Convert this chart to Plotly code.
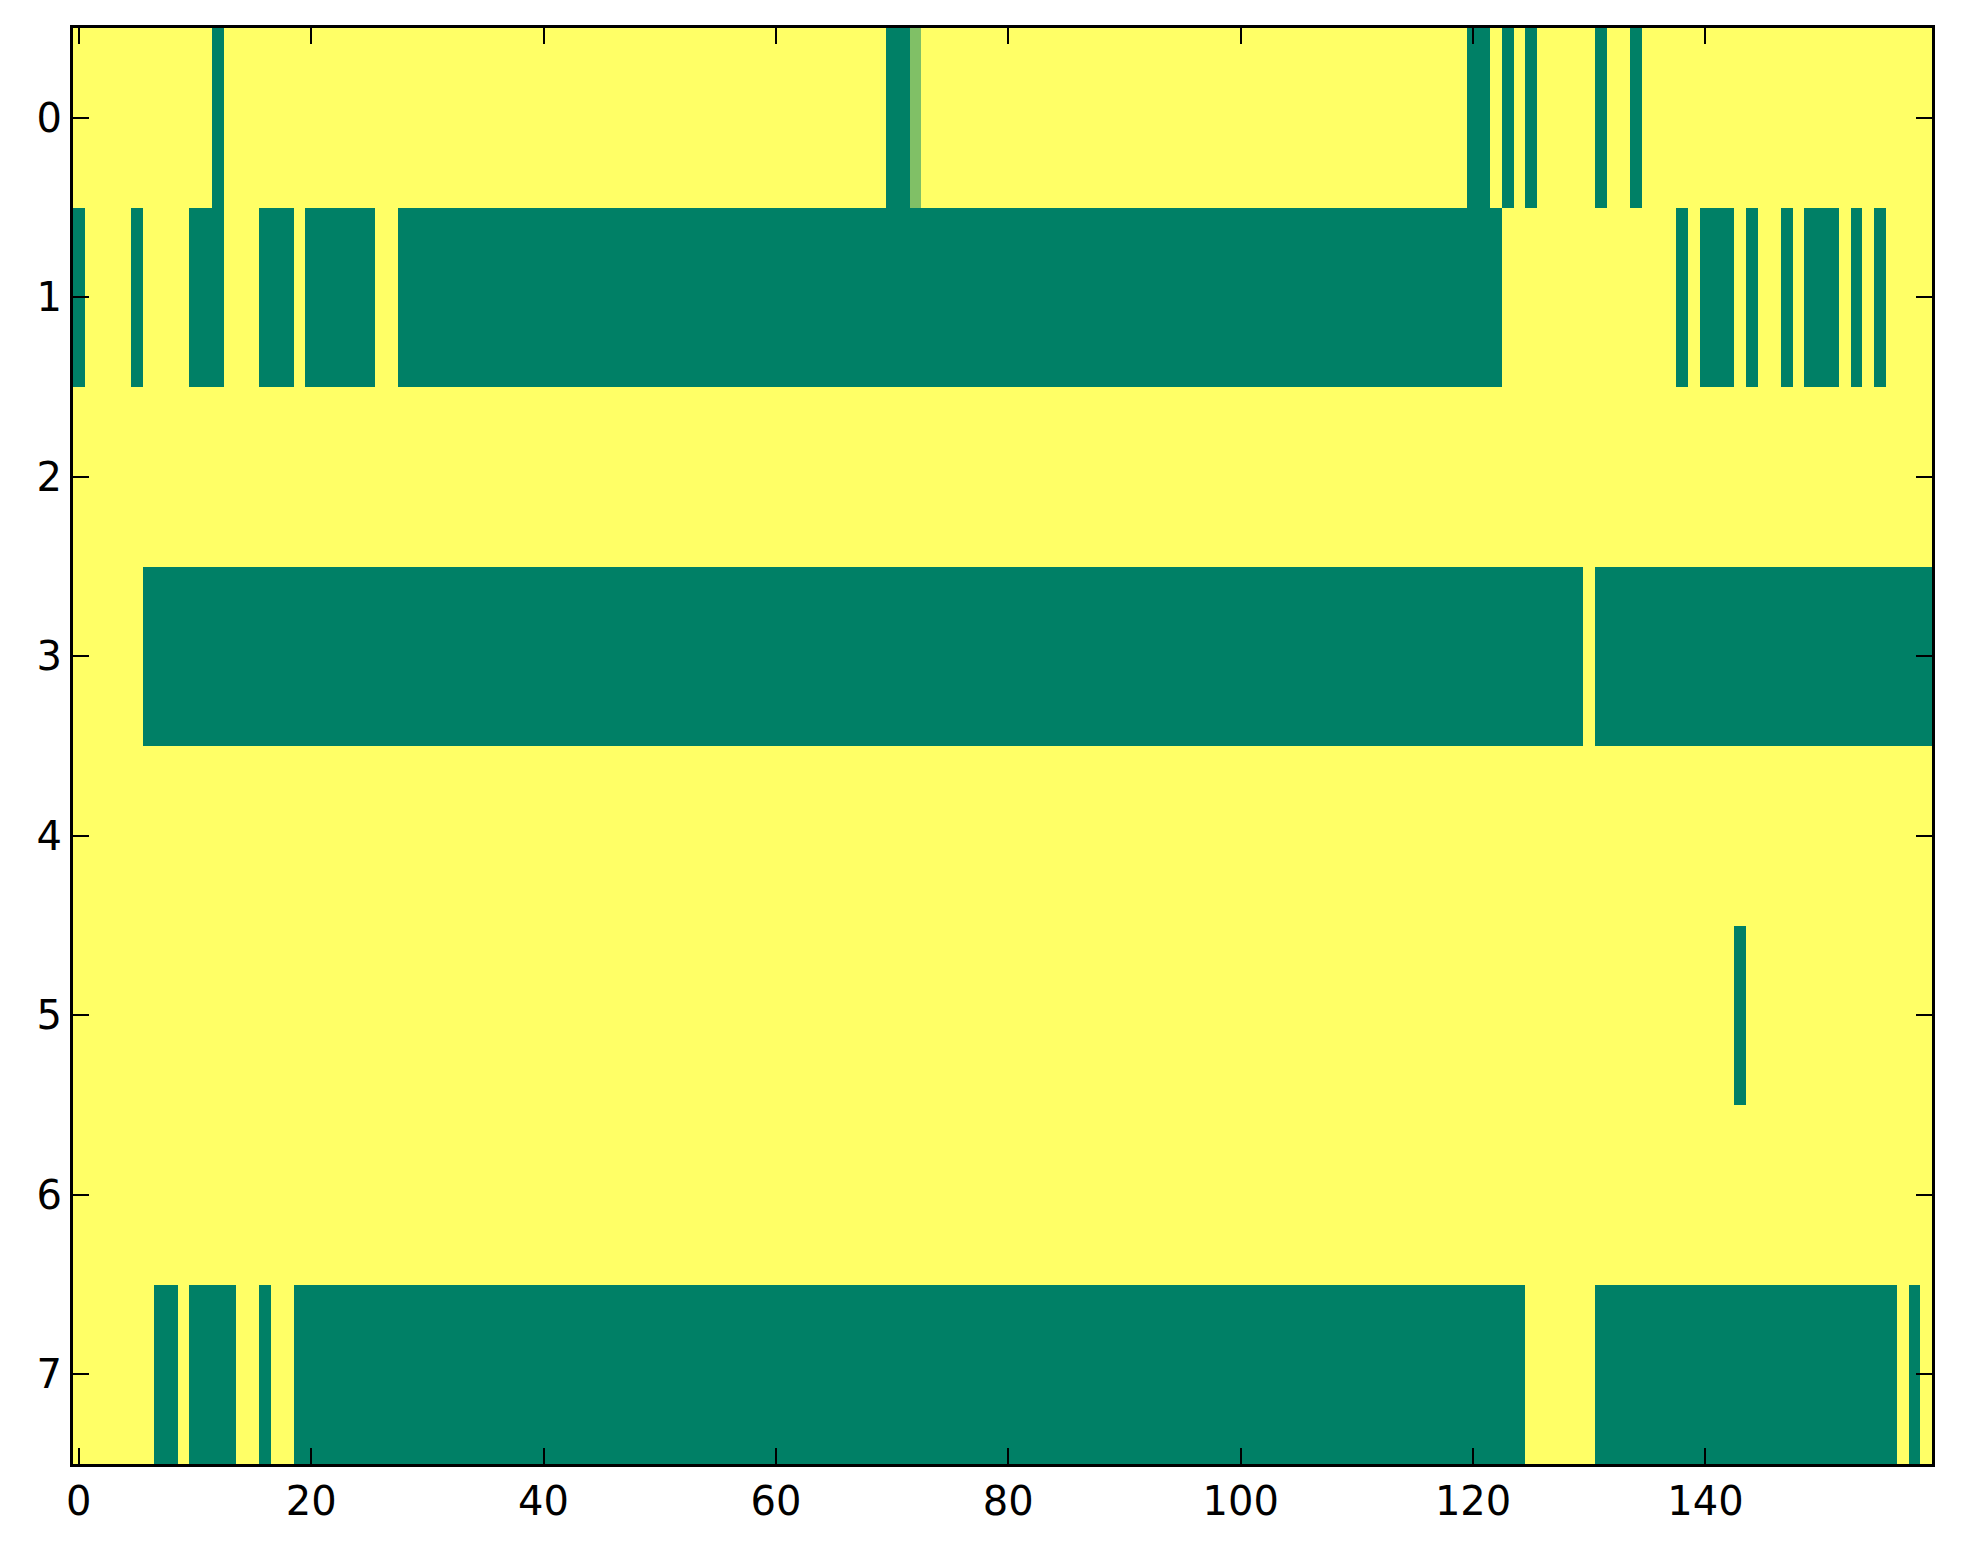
import numpy as np
import plotly.graph_objects as go

# grid size: 8 rows, 160 columns
n_rows = 8
n_cols = 160

# green (value 0) stretches per row, as (first column, last column); everything else is 1
row_0_green = [(12, 12), (70, 71), (120, 121), (123, 123), (125, 125), (131, 131), (134, 134)]
row_1_green = [(0, 0), (5, 5), (10, 12), (16, 18), (20, 25), (28, 122), (138, 138),
               (140, 142), (144, 144), (147, 147), (149, 151), (153, 153), (155, 155)]
row_2_green = []
row_3_green = [(6, 129), (131, 159)]
row_4_green = []
row_5_green = [(143, 143)]
row_6_green = []
row_7_green = [(7, 8), (10, 13), (16, 16), (19, 124), (131, 156), (158, 158)]

# the single in-between cell (row, column, value)
mid_cells = [(0, 72, 0.5)]

x_ticks = [0, 20, 40, 60, 80, 100, 120, 140]
y_ticks = [0, 1, 2, 3, 4, 5, 6, 7]

green_rows = [row_0_green, row_1_green, row_2_green, row_3_green,
              row_4_green, row_5_green, row_6_green, row_7_green]

z = np.ones((n_rows, n_cols))
for r, runs in enumerate(green_rows):
    for a, b in runs:
        z[r, a:b + 1] = 0
for r, c, v in mid_cells:
    z[r, c] = v

# matplotlib "summer" colormap
summer = [[0.0, "#008066"], [1.0, "#ffff66"]]

fig = go.Figure(go.Heatmap(
    z=z,
    x=list(range(n_cols)),
    y=list(range(n_rows)),
    colorscale=summer,
    zmin=0, zmax=1,
    showscale=False,
    hoverinfo="skip",
))

axis_style = dict(
    showgrid=False, zeroline=False,
    showline=True, linecolor="black", linewidth=3, mirror="ticks",
    ticks="inside", ticklen=16, tickwidth=2, tickcolor="black",
    tickfont=dict(family="DejaVu Sans", size=40, color="black"),
)

fig.update_xaxes(range=[-0.5, n_cols - 0.5], tickvals=x_ticks, **axis_style)
fig.update_yaxes(range=[n_rows - 0.5, -0.5], tickvals=y_ticks, **axis_style)

fig.update_layout(
    width=1963, height=1564,
    margin=dict(l=65, r=39, t=20, b=108),
    paper_bgcolor="white", plot_bgcolor="white",
)

fig.write_html("out.html")
